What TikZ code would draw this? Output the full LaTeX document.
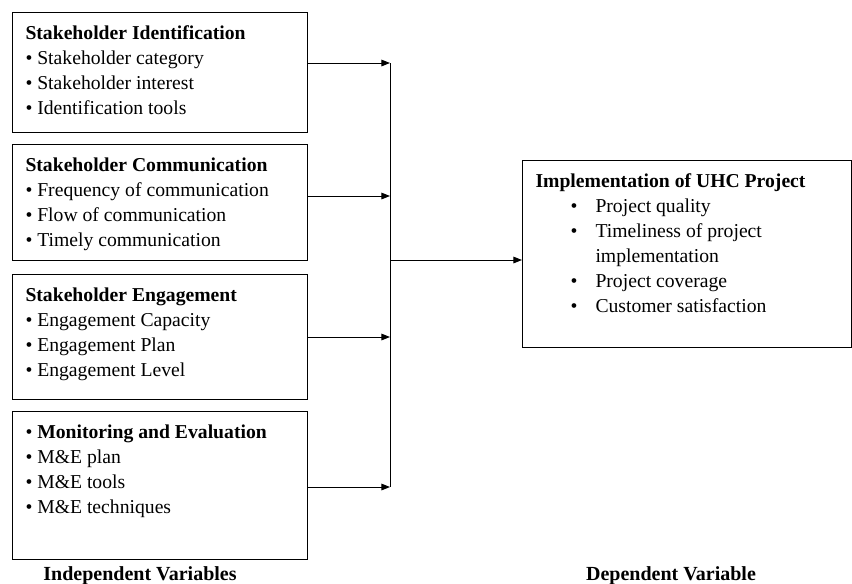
\documentclass[tikz,border=0pt]{standalone}
\usepackage{fontspec}
\setmainfont{Liberation Serif}
\usetikzlibrary{arrows.meta}
% text block of a fixed height, top aligned
\newcommand{\ivtext}[2]{\parbox[t][#1][t]{201.75pt}{#2}}
\newcommand{\dvtext}[2]{\parbox[t][#1][t]{227.25pt}{#2}}
\newcommand{\dvitem}[1]{\hspace*{26.25pt}\makebox[18.75pt][l]{\textbullet}#1}
\begin{document}
\begin{tikzpicture}[x=0.75pt,y=-0.75pt,
    font=\fontsize{14.75}{18.75}\selectfont,
    varbox/.style={draw,line width=0.75pt,anchor=north west,inner xsep=9.75pt,inner ysep=9.75pt},
    flow/.style={line width=0.75pt,-{Triangle[length=6.5pt,width=5pt]}},
    caption/.style={anchor=base,font=\fontsize{15}{18}\selectfont\bfseries}]
    \useasboundingbox (0,0) rectangle (852,583);
    % independent variables
    \node[varbox] (ident) at (12,12) {\ivtext{70.5pt}{\textbf{Stakeholder Identification}\\
        \textbullet\ Stakeholder category\\
        \textbullet\ Stakeholder interest\\
        \textbullet\ Identification tools}};
    \node[varbox] (comm) at (12,144) {\ivtext{67.5pt}{\textbf{Stakeholder Communication}\\
        \textbullet\ Frequency of communication\\
        \textbullet\ Flow of communication\\
        \textbullet\ Timely communication}};
    \node[varbox] (engage) at (12,274) {\ivtext{74.25pt}{\textbf{Stakeholder Engagement}\\
        \textbullet\ Engagement Capacity\\
        \textbullet\ Engagement Plan\\
        \textbullet\ Engagement Level}};
    \node[varbox] (monitor) at (12,411) {\ivtext{91.5pt}{\textbullet\ \textbf{Monitoring and Evaluation}\\
        \textbullet\ M\&E plan\\
        \textbullet\ M\&E tools\\
        \textbullet\ M\&E techniques}};
    % dependent variable
    \node[varbox] (impl) at (522,160) {\dvtext{120.75pt}{\textbf{Implementation of UHC Project}\\
        \dvitem{Project quality}\\
        \dvitem{Timeliness of project}\\
        \hspace*{45pt}implementation\\
        \dvitem{Project coverage}\\
        \dvitem{Customer satisfaction}}};
    % joining line
    \coordinate (bus1) at (390,63);
    \coordinate (bus2) at (390,196);
    \coordinate (bus3) at (390,337);
    \coordinate (bus4) at (390,487);
    \coordinate (busmid) at (390,260);
    \draw[line width=0.75pt] (bus1) -- (bus4);
    \draw[flow] (ident.east |- bus1) -- (bus1);
    \draw[flow] (comm.east |- bus2) -- (bus2);
    \draw[flow] (engage.east |- bus3) -- (bus3);
    \draw[flow] (monitor.east |- bus4) -- (bus4);
    \draw[flow] (busmid) -- (impl.west |- busmid);
    % captions
    \node[caption] (indep) at (140,580) {Independent Variables};
    \node[caption] (dep) at (671,580) {Dependent Variable};
\end{tikzpicture}
\end{document}
